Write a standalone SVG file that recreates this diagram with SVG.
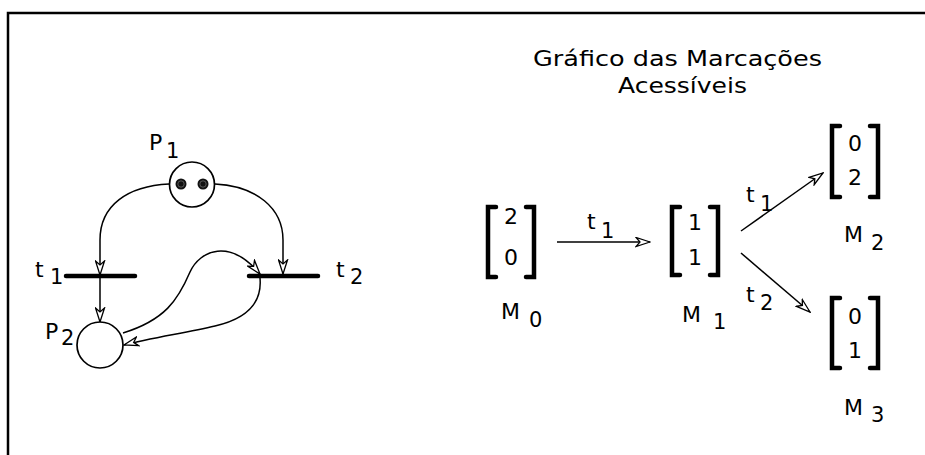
<svg xmlns="http://www.w3.org/2000/svg" width="925" height="455" viewBox="0 0 925 455">
<defs>
<style>
text{font-family:"DejaVu Sans","Liberation Sans",sans-serif;font-size:22px;fill:#000}
.sub{font-size:21px}
.ln{fill:none;stroke:#000;stroke-width:1.5}
.bar{stroke:#000;stroke-width:4.5;stroke-linecap:round}
.br{fill:none;stroke:#000;stroke-width:4.5;stroke-linejoin:miter;stroke-linecap:round}
.pl{fill:#fff;stroke:#000;stroke-width:1.7}
</style>
<marker id="ah" viewBox="0 0 16 11" refX="15" refY="5.5" markerWidth="16" markerHeight="11" markerUnits="userSpaceOnUse" orient="auto">
<path d="M1,1 L15,5.5 L1,10 L5,5.5 Z" fill="#fff" stroke="#000" stroke-width="1.3" stroke-linejoin="miter"/>
</marker>
</defs>
<rect width="925" height="455" fill="#fff"/>
<path d="M8,455 L8,13 L925,13" fill="none" stroke="#000" stroke-width="2.5"/>

<g id="title">
<text x="533" y="66" textLength="289" lengthAdjust="spacingAndGlyphs">Gráfico das Marcações</text>
<text x="618" y="93" textLength="129" lengthAdjust="spacingAndGlyphs">Acessíveis</text>
</g>

<g id="connectors">
<path class="ln" d="M169,184 C128,186 100,205 100,240 L100,275" marker-end="url(#ah)"/>
<path class="ln" d="M215,184 C256,186 283,208 283,240 L283,274" marker-end="url(#ah)"/>
<path class="ln" d="M100,277 L100,322" marker-end="url(#ah)"/>
<path class="ln" d="M123,333 C165,320 178,300 190,272 C200,250 230,238 260,274" marker-end="url(#ah)"/>
<path class="ln" d="M260,278 C262,300 250,318 215,326 C185,333 150,338 124,345" marker-end="url(#ah)"/>
<path class="ln" d="M557,242 L650,242" marker-end="url(#ah)"/>
<path class="ln" d="M741,231 L823,173" marker-end="url(#ah)"/>
<path class="ln" d="M741,253 L810,312" marker-end="url(#ah)"/>
</g>

<g id="P1">
<circle class="pl" cx="192" cy="184.5" r="22.5"/>
<circle cx="181" cy="184" r="5.5" fill="#111"/>
<circle cx="181" cy="184" r="3.2" fill="none" stroke="#777" stroke-width="0.7"/>
<circle cx="203" cy="184" r="5.5" fill="#111"/>
<circle cx="203" cy="184" r="3.2" fill="none" stroke="#777" stroke-width="0.7"/>
<text x="149" y="150">P</text><text class="sub" x="166" y="158">1</text>
</g>
<g id="P2">
<circle class="pl" cx="100" cy="345" r="23"/>
<text x="45" y="339">P</text><text class="sub" x="61" y="345">2</text>
</g>
<g id="t1">
<line class="bar" x1="66" y1="276" x2="135" y2="276"/>
<text x="35" y="277">t</text><text class="sub" x="50" y="284">1</text>
</g>
<g id="t2">
<line class="bar" x1="249" y1="276" x2="318" y2="276"/>
<text x="336" y="277">t</text><text class="sub" x="350" y="284">2</text>
</g>

<g id="M0">
<path class="br" d="M496,207 L488,207 L488,277 L496,277"/>
<path class="br" d="M526,207 L534,207 L534,277 L526,277"/>
<text x="511" y="224" text-anchor="middle">2</text>
<text x="511" y="265" text-anchor="middle">0</text>
<text x="501" y="319">M</text><text class="sub" x="529" y="327">0</text>
</g>
<g id="M1">
<path class="br" d="M680,207 L672,207 L672,275 L680,275"/>
<path class="br" d="M710,207 L718,207 L718,275 L710,275"/>
<text x="695" y="230" text-anchor="middle">1</text>
<text x="695" y="265" text-anchor="middle">1</text>
<text x="682" y="322">M</text><text class="sub" x="713" y="329">1</text>
</g>
<g id="M2">
<path class="br" d="M840,126 L832,126 L832,197 L840,197"/>
<path class="br" d="M870,126 L878,126 L878,197 L870,197"/>
<text x="855" y="151" text-anchor="middle">0</text>
<text x="855" y="185" text-anchor="middle">2</text>
<text x="844" y="242">M</text><text class="sub" x="871" y="250">2</text>
</g>
<g id="M3">
<path class="br" d="M840,298 L832,298 L832,368 L840,368"/>
<path class="br" d="M870,298 L878,298 L878,368 L870,368"/>
<text x="855" y="324" text-anchor="middle">0</text>
<text x="855" y="358" text-anchor="middle">1</text>
<text x="844" y="415">M</text><text class="sub" x="871" y="422">3</text>
</g>
<g id="labels">
<text x="587" y="229">t</text><text class="sub" x="601" y="238">1</text>
<text x="746" y="202">t</text><text class="sub" x="760" y="211">1</text>
<text x="746" y="302">t</text><text class="sub" x="760" y="310">2</text>
</g>
</svg>
